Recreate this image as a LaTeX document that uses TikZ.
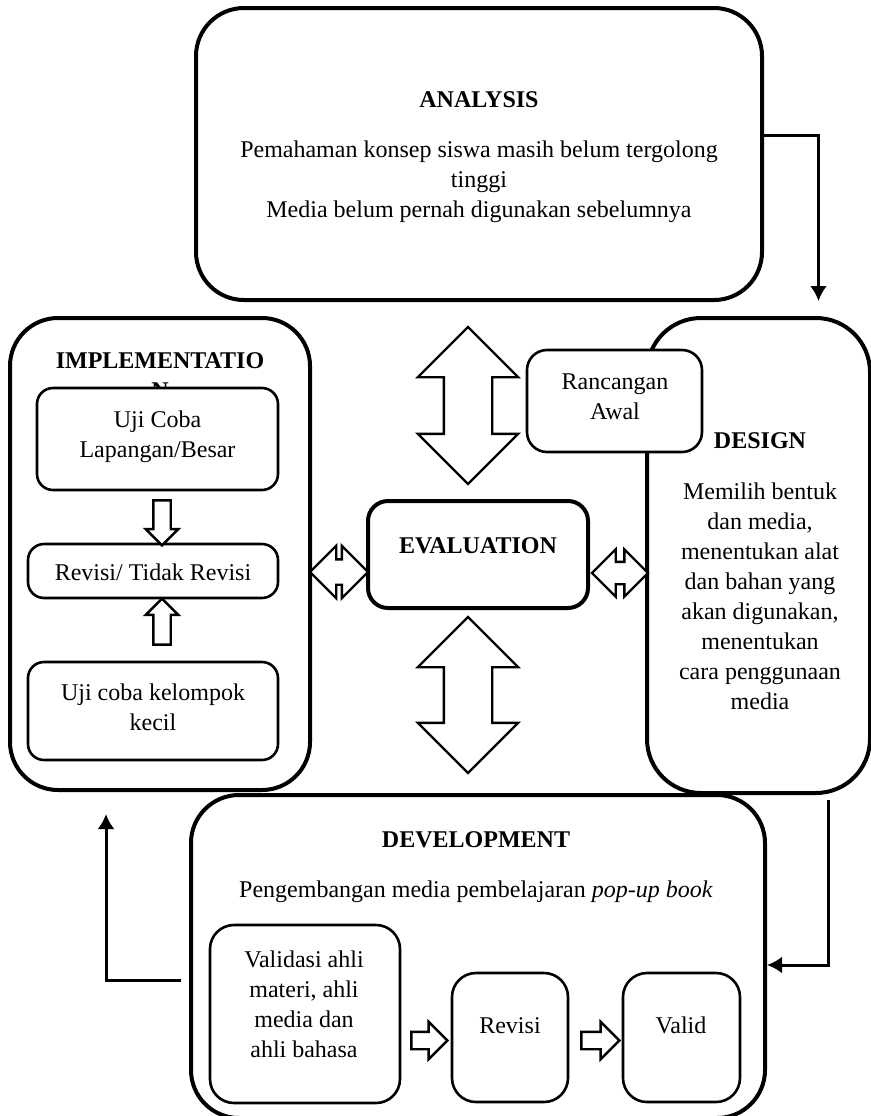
\documentclass[tikz,border=0pt]{standalone}
\usepackage{fontspec}
\setmainfont{Liberation Serif}
\usetikzlibrary{shapes.arrows,arrows.meta}

\tikzset{
	phase/.style={draw, line width=2pt, rounded corners=24pt, inner sep=0pt},
	subbox/.style={draw, line width=1.3pt, rounded corners=8pt, fill=white, inner sep=0pt},
	txt/.style={font=\fontsize{12}{15}\selectfont, align=center, inner sep=0pt, anchor=base},
	ttl/.style={txt, font=\fontsize{12}{15}\selectfont\bfseries},
	hollow/.style={draw, line width=1.2pt, fill=white, inner sep=0pt},
	link/.style={line width=1.5pt, -{Latex[length=7.5pt,width=8.5pt]}}
}

\begin{document}
\begin{tikzpicture}[x=0.5pt,y=-0.5pt]
	\useasboundingbox (0,0) rectangle (871,1116);
	% phases
		\node[phase, minimum width=283pt, minimum height=146pt] (analysis) at (479,154) {};
		\node[phase, minimum width=150pt, minimum height=236pt] (implementation) at (160,554) {};
		\node[phase, rounded corners=27pt, minimum width=111.5pt, minimum height=237.5pt] (design) at (758.5,555.5) {};
		\node[phase, minimum width=287pt, minimum height=161.5pt] (development) at (478,956.5) {};
		\node[phase, rounded corners=10pt, minimum width=110pt, minimum height=53.5pt] (evaluation) at (478,554.5) {};
	% titles and texts (multi-line texts sit on their last baseline)
		\node[ttl] (anatitle) at (479,107) {ANALYSIS};
		\node[txt] (anatext) at (479,217) {Pemahaman konsep siswa masih belum tergolong\\tinggi\\Media belum pernah digunakan sebelumnya};
		\node[ttl] (imptitle) at (160,398) {IMPLEMENTATIO\\N};
		\node[ttl] (destitle) at (760,448) {DESIGN};
		\node[txt] (destext) at (760,709) {Memilih bentuk\\dan media,\\menentukan alat\\dan bahan yang\\akan digunakan,\\menentukan\\cara penggunaan\\media};
		\node[ttl] (evatitle) at (478,553) {EVALUATION};
		\node[ttl] (devtitle) at (476,847) {DEVELOPMENT};
		\node[txt] (devtext) at (476,897) {Pengembangan media pembelajaran \textit{pop-up book}};
	% inner boxes
		\node[subbox, rounded corners=10pt, minimum width=87.5pt, minimum height=51pt] (rancangan) at (614.5,401) {};
		\node[txt] (rancangantext) at (615,419) {Rancangan\\Awal};
		\node[subbox, minimum width=120.5pt, minimum height=51pt] (ujicoba) at (157.5,439) {};
		\node[txt] (ujicobatext) at (157.5,457) {Uji Coba\\Lapangan/Besar};
		\node[subbox, minimum width=125pt, minimum height=27pt] (revimp) at (153,571) {};
		\node[txt] (revimptext) at (153,580) {Revisi/ Tidak Revisi};
		\node[subbox, minimum width=125pt, minimum height=49pt] (kelompok) at (153,711) {};
		\node[txt] (kelompoktext) at (153,730) {Uji coba kelompok\\kecil};
		\node[subbox, rounded corners=12pt, minimum width=95pt, minimum height=89pt] (validasi) at (305,1014) {};
		\node[txt] (validasitext) at (304,1057) {Validasi ahli\\materi, ahli\\media dan\\ahli bahasa};
		\node[subbox, rounded corners=12pt, minimum width=58pt, minimum height=64.5pt] (revdev) at (510,1037.5) {};
		\node[txt] (revdevtext) at (510,1033) {Revisi};
		\node[subbox, rounded corners=12pt, minimum width=58.5pt, minimum height=64.5pt] (valid) at (681.5,1037.5) {};
		\node[txt] (validtext) at (681,1033) {Valid};
	% hollow arrows
		\node[hollow, single arrow, rotate=-90, inner ysep=3.75pt, minimum height=22.5pt, minimum width=15pt, single arrow head extend=3.75pt] (impdown) at (162,518.5) {};
		\node[hollow, single arrow, rotate=90, inner ysep=3.75pt, minimum height=23pt, minimum width=15pt, single arrow head extend=3.75pt] (impup) at (162,626) {};
		\node[hollow, single arrow, inner ysep=3.75pt, minimum height=18pt, minimum width=17.5pt, single arrow head extend=5pt] (devright1) at (425,1040.5) {};
		\node[hollow, single arrow, inner ysep=3.75pt, minimum height=19pt, minimum width=17.5pt, single arrow head extend=5pt] (devright2) at (596,1040.5) {};
		\node[hollow, double arrow, rotate=90, inner ysep=11.5pt, minimum height=78.5pt, minimum width=49pt, double arrow head extend=13pt] (evaup) at (468,405.5) {};
		\node[hollow, double arrow, rotate=90, inner ysep=11.5pt, minimum height=78pt, minimum width=49pt, double arrow head extend=13pt] (evadown) at (468,695) {};
		\node[hollow, double arrow, inner ysep=5.75pt, minimum height=29pt, minimum width=25pt, double arrow head extend=6.75pt] (evaleft) at (339,572) {};
		\node[hollow, double arrow, inner ysep=5pt, minimum height=28pt, minimum width=22.5pt, double arrow head extend=6.25pt] (evaright) at (620,573) {};
	% connectors
		\draw[link] ([yshift=9.5pt]analysis.east) -| ([xshift=30pt,yshift=7.5pt]design.north);
		\draw[link] ([xshift=35pt,yshift=-2.5pt]design.south) |- ([yshift=-4.25pt]development.east);
		\draw[link, shorten <=4pt] ([yshift=-11.75pt]development.west) -| ([xshift=-27pt,yshift=-11pt]implementation.south);
\end{tikzpicture}
\end{document}
